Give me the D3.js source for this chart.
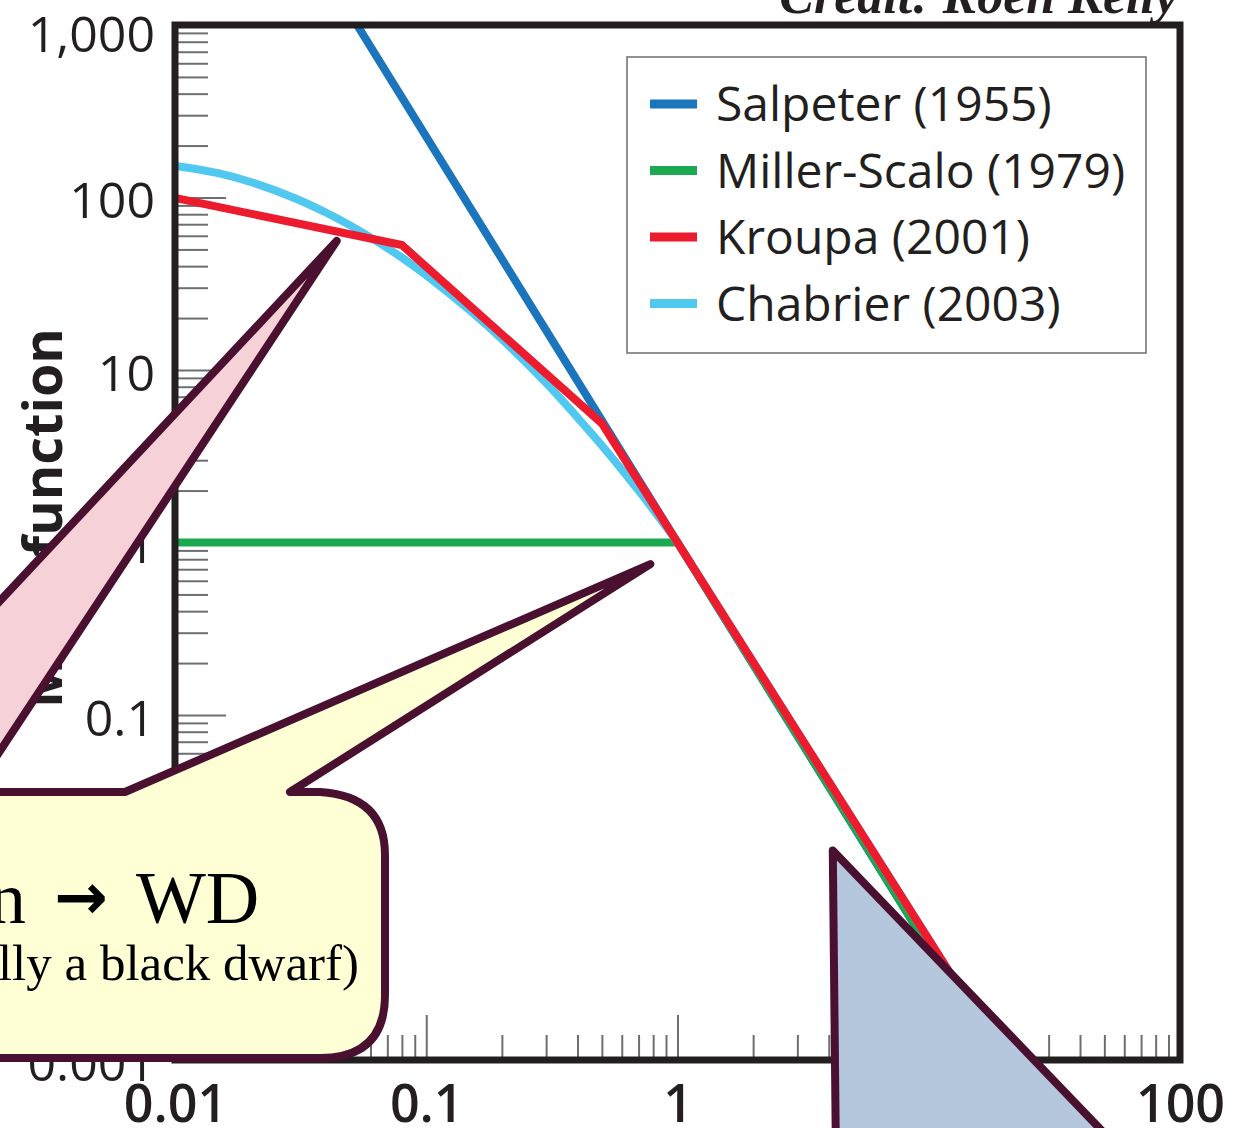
<!DOCTYPE html>
<html><head>
<meta charset="utf-8">
<title>Mass function</title>
<script src="https://d3js.org/d3.v7.min.js"></script>
<style>
body { margin: 0; background: #fff; }
svg { display: block; }
</style>
</head>
<body>
<div id="chart"></div>
<script>

// values (mass in solar masses, mass function normalised to 1 at 1 Msun)
var salpeterMass = [0.05, 0.5, 1, 100];
var salpeterVal  = [1150, 5.1, 1, 0.00002];
var millerMass   = [0.01, 1, 10, 100];
var millerVal    = [1, 1, 0.0045, 0.000004];
var kroupaMass   = [0.01, 0.08, 0.5, 1, 100];
var kroupaVal    = [99.5, 53, 4.9, 1, 0.000025];
var chabrierMass = [0.01, 0.015, 0.02, 0.03, 0.04, 0.05, 0.065, 0.08, 0.1, 0.15, 0.2, 0.3, 0.4, 0.5, 0.7, 0.85, 1];
var chabrierVal  = [153, 138, 123, 99, 81.6, 68.7, 54.6, 44.8, 35.4, 22, 15.1, 8.4, 5.3, 3.65, 2.0, 1.38, 1];
var chabrierTailMass = [1, 100];
var chabrierTailVal  = [1, 0.000025];

var seriesNames  = ["Salpeter (1955)", "Miller-Scalo (1979)", "Kroupa (2001)", "Chabrier (2003)"];
var seriesColors = ["#1a75bc", "#1aa851", "#ec1c2e", "#50c8f0"];

var xTickValues = [0.01, 0.1, 1, 10, 100];
var xTickLabels = ["0.01", "0.1", "1", "10", "100"];
var yTickValues = [0.001, 0.01, 0.1, 1, 10, 100, 1000];
var yTickLabels = ["0.001", "0.01", "0.1", "1", "10", "100", "1,000"];

// callout tips, in data coordinates (mass, value)
var calloutTips = [[0.044, 56], [0.78, 0.75], [4.15, 0.0164]];

var W = 1239, H = 1128;
var pL = 175, pR = 1180, pT = 25, pB = 1060;

var svg = d3.select("#chart").append("svg")
    .attr("width", W)
    .attr("height", H);

var x = d3.scaleLog().domain([0.01, 100]).range([pL, pR]);
var y = d3.scaleLog().domain([0.001, 1000]).range([pB, pT]);

function isMajor(v) {
  var l = Math.log10(v);
  return Math.abs(l - Math.round(l)) < 1e-6;
}

// y ticks (inside the frame, pointing right)
var yAxisG = svg.append("g")
    .attr("transform", "translate(" + (pL + 3) + ",0)")
    .call(d3.axisRight(y).tickValues(y.ticks()).tickSize(30).tickFormat(""));
yAxisG.select(".domain").remove();
yAxisG.selectAll(".tick line")
    .attr("x2", function(d) { return isMajor(d) ? 48 : 30; })
    .attr("stroke", "#6d6e71")
    .attr("stroke-width", 2);

// x ticks (inside the frame, pointing up)
var xAxisG = svg.append("g")
    .attr("transform", "translate(0," + (pB - 3) + ")")
    .call(d3.axisTop(x).tickValues(x.ticks()).tickSize(22).tickFormat(""));
xAxisG.select(".domain").remove();
xAxisG.selectAll(".tick line")
    .attr("y2", function(d) { return isMajor(d) ? -42 : -22; })
    .attr("stroke", "#6d6e71")
    .attr("stroke-width", 2);

// tick labels
var yLab = svg.append("g")
    .attr("transform", "translate(155,4)")
    .call(d3.axisLeft(y).tickValues(yTickValues).tickSize(0)
      .tickFormat(function(d, i) { return yTickLabels[i]; }));
yLab.select(".domain").remove();
yLab.selectAll("text")
    .attr("x", 0)
    .attr("dy", function(d) { return d === 1000 ? "0.45em" : "0.32em"; })
    .style("font-family", "'Open Sans', sans-serif")
    .style("font-size", "50px")
    .style("font-weight", 500)
    .attr("fill", "#231f20");

var xLab = svg.append("g")
    .attr("transform", "translate(0,1082)")
    .call(d3.axisBottom(x).tickValues(xTickValues).tickSize(0)
      .tickFormat(function(d, i) { return xTickLabels[i]; }));
xLab.select(".domain").remove();
xLab.selectAll("text")
    .attr("y", 0)
    .attr("dy", "0.76em")
    .style("font-family", "'Open Sans', sans-serif")
    .style("font-size", "52px")
    .style("font-weight", 600)
    .attr("fill", "#231f20");

// y axis title
svg.append("text")
    .attr("transform", "translate(62,518) rotate(-90)")
    .attr("text-anchor", "middle")
    .style("font-family", "'Open Sans', sans-serif")
    .style("font-size", "54px")
    .style("font-weight", 700)
    .attr("fill", "#231f20")
    .text("Mass function");

// curves
svg.append("clipPath").attr("id", "plotclip")
  .append("rect")
    .attr("x", pL).attr("y", pT)
    .attr("width", pR - pL).attr("height", pB - pT);

var line = d3.line()
    .x(function(d) { return x(d[0]); })
    .y(function(d) { return y(d[1]); });
var smooth = d3.line()
    .x(function(d) { return x(d[0]); })
    .y(function(d) { return y(d[1]); })
    .curve(d3.curveCatmullRom);

var curves = svg.append("g").attr("clip-path", "url(#plotclip)");
var series = [
  {m: salpeterMass, v: salpeterVal, c: seriesColors[0], gen: line},
  {m: millerMass,   v: millerVal,   c: seriesColors[1], gen: line},
  {m: chabrierTailMass, v: chabrierTailVal, c: seriesColors[3], gen: line},
  {m: chabrierMass, v: chabrierVal, c: seriesColors[3], gen: smooth},
  {m: kroupaMass,   v: kroupaVal,   c: seriesColors[2], gen: line}
];
series.forEach(function(s) {
  curves.append("path")
    .datum(d3.zip(s.m, s.v))
    .attr("fill", "none")
    .attr("stroke", s.c)
    .attr("stroke-width", 8)
    .attr("d", s.gen);
});

// frame
svg.append("rect")
    .attr("x", pL).attr("y", pT)
    .attr("width", pR - pL).attr("height", pB - pT)
    .attr("fill", "none")
    .attr("stroke", "#231f20")
    .attr("stroke-width", 7);

// legend
var lg = svg.append("g").attr("transform", "translate(627,57)");
lg.append("rect")
    .attr("width", 519).attr("height", 296)
    .attr("fill", "#fff")
    .attr("stroke", "#6d6e71")
    .attr("stroke-width", 1.5);
seriesNames.forEach(function(name, i) {
  var yy = 47 + i * 66.5;
  lg.append("line")
    .attr("x1", 23).attr("x2", 70)
    .attr("y1", yy).attr("y2", yy)
    .attr("stroke", seriesColors[i])
    .attr("stroke-width", 9);
  lg.append("text")
    .attr("x", 89).attr("y", yy)
    .attr("dy", "0.36em")
    .style("font-family", "'Open Sans', sans-serif")
    .style("font-size", "48px")
    .attr("fill", "#231f20")
    .text(name);
});

// credit
svg.append("text")
    .attr("x", 1178).attr("y", 13)
    .attr("text-anchor", "end")
    .style("font-family", "'Liberation Serif', serif")
    .style("font-size", "52px")
    .style("font-weight", 700)
    .style("font-style", "italic")
    .attr("fill", "#231f20")
    .text("Credit: Roen Kelly");

// callout bubbles
var stroke = "#4a1030";
var t0 = [x(calloutTips[0][0]), y(calloutTips[0][1])];
var t1 = [x(calloutTips[1][0]), y(calloutTips[1][1])];
var t2 = [x(calloutTips[2][0]), y(calloutTips[2][1])];

// pink pointer coming from the left
svg.append("path")
    .attr("d", "M" + t0 + "L-60,665L-60,842Z")
    .attr("fill", "#f6d2d8")
    .attr("stroke", stroke)
    .attr("stroke-width", 8)
    .attr("stroke-linejoin", "round");

// yellow bubble
var yb = d3.path();
yb.moveTo(-60, 792);
yb.lineTo(125, 792);
yb.lineTo(t1[0], t1[1]);
yb.lineTo(290, 792);
yb.lineTo(320, 792);
yb.quadraticCurveTo(385, 796, 385, 855);
yb.lineTo(385, 995);
yb.quadraticCurveTo(385, 1058, 320, 1058);
yb.lineTo(-60, 1058);
yb.closePath();
svg.append("path")
    .attr("d", yb.toString())
    .attr("fill", "#ffffd6")
    .attr("stroke", stroke)
    .attr("stroke-width", 8)
    .attr("stroke-linejoin", "round");

var l1 = svg.append("text")
    .attr("y", 923)
    .style("font-family", "'Liberation Serif', serif")
    .style("font-size", "74px")
    .attr("fill", "#000");
l1.append("tspan").attr("x", 26).attr("text-anchor", "end").text("Sun");
l1.append("tspan")
    .attr("x", 54).attr("dy", -4)
    .style("font-family", "'DejaVu Sans', sans-serif")
    .style("font-size", "64px")
    .style("font-weight", 700)
    .text("\u2192");
l1.append("tspan").attr("x", 136).attr("dy", 4).text("WD");

svg.append("text")
    .attr("x", 359).attr("y", 980)
    .attr("text-anchor", "end")
    .style("font-family", "'Liberation Serif', serif")
    .style("font-size", "51px")
    .attr("fill", "#000")
    .text("(eventually a black dwarf)");

// blue pointer coming from below
svg.append("path")
    .attr("d", "M836,1160L" + t2 + "L1130,1160Z")
    .attr("fill", "#b5c7dc")
    .attr("stroke", stroke)
    .attr("stroke-width", 8)
    .attr("stroke-linejoin", "round");

</script>
</body></html>
